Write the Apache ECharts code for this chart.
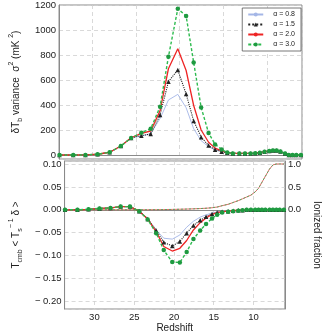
<!DOCTYPE html>
<html>
<head>
<meta charset="utf-8">
<script src="https://cdn.jsdelivr.net/npm/echarts@6/dist/echarts.min.js"></script>
<style>
  html, body { margin: 0; padding: 0; background: #fff; }
  #chart { width: 330px; height: 334px; }
</style>
</head>
<body>
<div id="chart"></div>
<script>
// redshift grid shared by every curve
const zs = [33.70, 32.13, 30.74, 29.36, 27.98, 26.70, 25.53, 24.36, 23.30, 22.23, 21.28, 20.21,
  19.26, 18.40, 17.55, 16.70, 15.96, 15.21, 14.57, 13.94, 13.19, 12.55, 11.91, 11.38, 10.85,
  10.32, 9.79, 9.36, 8.94, 8.51, 7.98, 7.55, 7.13, 6.70, 6.17];

const legendNames = ['α = 0.8', 'α = 1.5', 'α = 2.0', 'α = 3.0'];

// top panel: dTb variance (mK^2)
const var08 = [0, 0, 1, 6, 22, 72, 140, 150, 172, 292, 440, 485, 378, 210, 115, 66, 42, 28, 18,
  13, 13, 13, 13, 15, 19, 27, 32, 37, 36, 28, 12, 1, 0, 0, 0];
const var15 = [0, 0, 1, 6, 22, 72, 136, 155, 168, 320, 587, 680, 488, 272, 143, 76, 42, 27, 18,
  13, 13, 13, 13, 15, 19, 27, 32, 37, 36, 28, 12, 1, 0, 0, 0];
const var20 = [0, 0, 1, 6, 22, 72, 138, 173, 192, 355, 690, 850, 676, 396, 200, 102, 55, 33, 21,
  13, 13, 13, 13, 15, 19, 27, 32, 37, 36, 28, 12, 1, 0, 0, 0];
const var30 = [0, 0, 1, 6, 22, 72, 136, 178, 210, 386, 786, 1170, 1112, 740, 381, 176, 85, 45, 20,
  13, 13, 13, 13, 15, 19, 27, 32, 37, 36, 28, 12, 1, 0, 0, 0];

// bottom panel: Tcmb <Ts^-1 delta>
const cor08 = [0, 0, 0.001, 0.003, 0.004, 0.007, 0.007, -0.002, -0.019, -0.044, -0.062, -0.064,
  -0.055, -0.038, -0.025, -0.016, -0.011, -0.007, -0.005, -0.003, -0.002, -0.002, -0.001, -0.001,
  0, 0, 0, 0, 0, 0, 0, 0, 0, 0, 0];
const cor15 = [0, 0, 0.001, 0.003, 0.004, 0.007, 0.007, -0.003, -0.020, -0.045, -0.071, -0.079,
  -0.069, -0.051, -0.034, -0.023, -0.015, -0.009, -0.006, -0.004, -0.003, -0.002, -0.001, -0.001,
  0, 0, 0, 0, 0, 0, 0, 0, 0, 0, 0];
const cor20 = [0, 0, 0.001, 0.003, 0.004, 0.007, 0.007, -0.003, -0.020, -0.048, -0.080, -0.090,
  -0.084, -0.067, -0.044, -0.028, -0.018, -0.010, -0.006, -0.004, -0.003, -0.002, -0.001, -0.001,
  0, 0, 0, 0, 0, 0, 0, 0, 0, 0, 0];
const cor30 = [0, 0, 0.001, 0.003, 0.004, 0.007, 0.007, -0.003, -0.021, -0.051, -0.088, -0.114,
  -0.115, -0.092, -0.064, -0.045, -0.031, -0.019, -0.011, -0.006, -0.004, -0.003, -0.002, -0.001,
  0, 0, 0, 0, 0, 0, 0, 0, 0, 0, 0];

// ionized fraction (right axis of bottom panel)
const xion = [0, 0, 0, 0, 0, 0, 0, 0, 0.001, 0.002, 0.005, 0.008, 0.012, 0.016, 0.021, 0.027,
  0.034, 0.045, 0.06, 0.09, 0.12, 0.16, 0.20, 0.24, 0.28, 0.32, 0.39, 0.47, 0.60, 0.73, 0.89,
  0.98, 1.0, 1.0, 1.0];

const FONT = 'Liberation Sans';
const pairs = (ys) => zs.map((z, i) => [z, ys[i]]);

const styles = [
  { color: '#a4b6e6', width: 0.9, type: 'solid', symbol: 'none', symbolSize: 0 },
  { color: '#222222', width: 1.1, type: 'dotted', symbol: 'triangle', symbolSize: 4.5 },
  { color: '#ee2424', width: 1.3, type: 'solid', symbol: 'none', symbolSize: 0 },
  { color: '#2dbb4f', width: 1.4, type: [3, 2], symbol: 'circle', symbolSize: 4.5, itemColor: '#1e9a40' }
];

function makeSeries(name, st, data, gi) {
  return {
    name: name,
    type: 'line',
    xAxisIndex: gi,
    yAxisIndex: gi,
    data: pairs(data),
    symbol: st.symbol,
    symbolSize: st.symbolSize,
    showSymbol: st.symbol !== 'none',
    showAllSymbol: true,
    lineStyle: { color: st.color, width: st.width, type: st.type },
    itemStyle: { color: st.itemColor || st.color },
    emphasis: { disabled: true },
    z: 3
  };
}

const topSets = [var08, var15, var20, var30];
const botSets = [cor08, cor15, cor20, cor30];
const series = [];
topSets.forEach((d, i) => series.push(makeSeries(legendNames[i], styles[i], d, 0)));
botSets.forEach((d, i) => series.push(makeSeries(legendNames[i], styles[i], d, 1)));

series.push({
  name: 'xion red', type: 'line', xAxisIndex: 1, yAxisIndex: 2, data: pairs(xion),
  symbol: 'none', lineStyle: { color: '#e25a5a', width: 0.9 }, z: 2
});
series.push({
  name: 'xion green', type: 'line', xAxisIndex: 1, yAxisIndex: 2, data: pairs(xion),
  symbol: 'none', lineStyle: { color: '#4aaa5a', width: 0.9, type: [2, 2] }, z: 2
});

const gridLine = { show: true, lineStyle: { color: '#cfcfcf', type: [4, 3], width: 0.8 } };
const frameLine = { show: true, lineStyle: { color: '#8a8a8a', width: 1 } };
const labelStyle = { color: '#222', fontFamily: FONT, fontSize: 9.5 };
const richName = {
  n: { fontFamily: FONT, fontSize: 10, lineHeight: 16, color: '#222' },
  s: { fontFamily: FONT, fontSize: 7, lineHeight: 8, verticalAlign: 'bottom', color: '#222' },
  p: { fontFamily: FONT, fontSize: 7, lineHeight: 8, verticalAlign: 'top', color: '#222' }
};

const chart = echarts.init(document.getElementById('chart'));
chart.setOption({
  animation: false,
  backgroundColor: '#fff',
  grid: [
    { left: 42, right: 28, top: 5, height: 154, show: true, borderColor: '#8a8a8a', borderWidth: 1 },
    { left: 42, right: 28, top: 161, height: 152, show: true, borderColor: '#8a8a8a', borderWidth: 1 }
  ],
  legend: {
    data: legendNames,
    orient: 'vertical',
    right: 29,
    top: 8,
    itemWidth: 15,
    itemHeight: 5,
    itemGap: 3,
    padding: [3, 6, 3, 5],
    borderColor: '#555',
    borderWidth: 0.8,
    backgroundColor: '#fff',
    textStyle: { fontFamily: FONT, fontSize: 7, color: '#222', padding: [0, 0, 0, 5] },
    selectedMode: false
  },
  xAxis: [
    {
      type: 'value', gridIndex: 0, inverse: true, min: 6.05, max: 33.75, splitNumber: 5,
      axisLine: frameLine, axisTick: { show: false }, axisLabel: { show: false },
      splitLine: gridLine
    },
    {
      type: 'value', gridIndex: 1, inverse: true, min: 6.05, max: 33.75, splitNumber: 5,
      axisLine: frameLine, axisTick: { show: false },
      axisLabel: Object.assign({ margin: 3, showMinLabel: false, showMaxLabel: false }, labelStyle),
      splitLine: gridLine,
      name: 'Redshift', nameLocation: 'middle', nameGap: 14,
      nameTextStyle: { fontFamily: FONT, fontSize: 10, color: '#222' }
    }
  ],
  yAxis: [
    {
      type: 'value', gridIndex: 0, min: -32, max: 1200, splitNumber: 6,
      axisLine: frameLine, axisTick: { show: false },
      axisLabel: Object.assign({
        margin: 3, showMinLabel: false,
        formatter: (v) => String(Math.round(v))
      }, labelStyle),
      splitLine: gridLine,
      name: '{n|δT}{s|b}{n| variance  σ}{p|2}{n| (mK }{p|2}{n|)}',
      nameLocation: 'middle', nameGap: 28,
      nameTextStyle: { fontFamily: FONT, color: '#222', rich: richName }
    },
    {
      type: 'value', gridIndex: 1, min: -0.2165, max: 0.1065, splitNumber: 6,
      axisLine: frameLine, axisTick: { show: false },
      axisLabel: Object.assign({
        margin: 3, showMinLabel: false, showMaxLabel: false,
        formatter: (v) => (v < -1e-9 ? '\u2212 ' + Math.abs(v).toFixed(2) : Math.abs(v).toFixed(2))
      }, labelStyle),
      splitLine: gridLine,
      name: '{n|T}{s|cmb}{n| < T}{s|s}{p|\u2212 1}{n| δ >}',
      nameLocation: 'middle', nameGap: 28,
      nameTextStyle: { fontFamily: FONT, color: '#222', rich: richName }
    },
    {
      type: 'value', gridIndex: 1, position: 'right', min: -2.165, max: 1.065, splitNumber: 6,
      axisLine: frameLine, axisTick: { show: false }, splitLine: { show: false },
      axisLabel: Object.assign({
        margin: 3, showMinLabel: false, showMaxLabel: false,
        formatter: (v) => (v >= -1e-9 ? Math.abs(v).toFixed(1) : '')
      }, labelStyle),
      name: 'Ionized fraction', nameLocation: 'middle', nameRotate: -90, nameGap: 23,
      nameTextStyle: { fontFamily: FONT, fontSize: 10, color: '#222' }
    }
  ],
  series: series
});
</script>
</body>
</html>
